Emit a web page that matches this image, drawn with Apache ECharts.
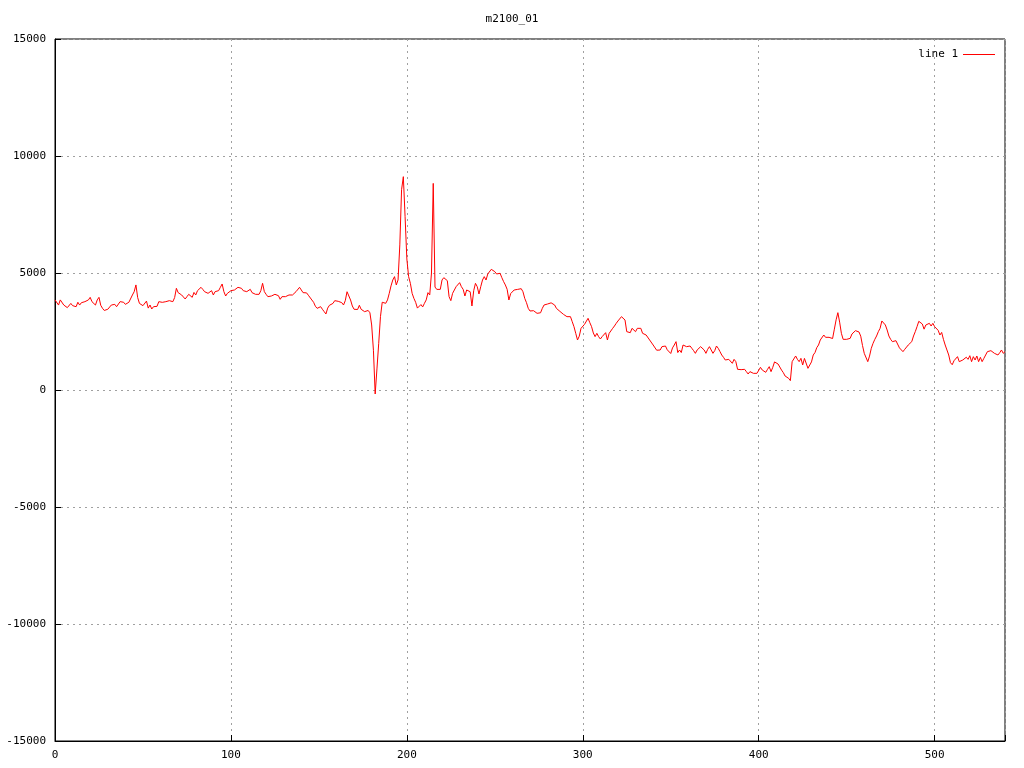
<!DOCTYPE html>
<html>
<head>
<meta charset="utf-8">
<script src="https://cdn.jsdelivr.net/npm/echarts@6/dist/echarts.min.js"></script>
<style>
html,body{margin:0;padding:0;background:#fff;}
#chart{width:1024px;height:768px;}
</style>
</head>
<body>
<div id="chart"></div>
<script>
const chartTitle = "m2100_01";
const seriesName = "line 1";
const xTicks = [0, 100, 200, 300, 400, 500];
const yTicks = [-15000, -10000, -5000, 0, 5000, 10000, 15000];
// values at x = 0, 1, 2, ...
const values = [
3850,3890,3630,3850,3775,3630,3560,3520,3520,3700,
3605,3660,3560,3750,3630,3730,3700,3775,3750,3850,
3960,3775,3740,3630,3850,3960,3620,3490,3400,3420,
3450,3450,3630,3590,3660,3560,3605,3775,3730,3750,
3660,3700,3750,3775,4060,4200,4490,3950,3700,3661,
3605,3561,3800,3500,3633,3462,3561,3633,3575,3775,
3704,3746,3704,3775,3704,3818,3733,3775,3950,4345,
4160,4131,4060,3989,3889,3989,4089,4060,3960,4170,
4060,4245,4203,4388,4302,4203,4274,4131,4203,4245,
4060,4203,4203,4245,4388,4530,4203,4017,4131,4203,
4245,4302,4274,4345,4388,4388,4345,4245,4203,4203,
4250,4302,4160,4089,4089,4131,4089,4245,4560,4203,
4089,3989,4032,4017,4060,4089,4089,4032,3875,3989,
3920,3989,3960,4060,4089,4060,4131,4203,4245,4388,
4275,4160,4200,4150,4050,4060,3847,3747,3580,3490,
3561,3561,3450,3350,3248,3500,3620,3661,3700,3818,
3760,3790,3775,3733,3633,3818,4200,4131,3847,3590,
3450,3400,3440,3620,3450,3376,3348,3277,3400,3300,
2778,1700,-171,900,1994,3134,3750,3760,3704,3850,
4131,4450,4700,4845,4488,4702,6200,8559,9117,7407,
5600,4845,4559,4131,3918,3747,3500,3448,3650,3550,
3704,3850,4160,4060,5000,8830,4400,4300,4245,4300,
4702,4800,4845,4673,3989,3818,4131,4089,4416,4488,
4588,4416,4302,4017,4274,4300,4200,3590,4245,4559,
4416,4103,4416,4700,4845,4700,4958,5015,5157,5100,
5058,4958,5015,4987,4800,4631,4488,4303,3846,4120,
4203,4274,4317,4300,4345,4330,4200,3917,3732,3490,
3376,3376,3390,3319,3277,3206,3300,3490,3633,3590,
3675,3650,3725,3747,3633,3490,3419,3360,3277,3234,
3305,3134,3063,3134,2920,2706,2421,2137,2300,2635,
2707,2807,2780,3063,2878,2707,2436,2280,2422,2280,
2180,2280,2351,2450,2137,2422,2422,2635,2735,2849,
2950,2920,3134,3205,2992,2493,2536,2450,2635,2565,
2493,2635,2565,2635,2422,2379,2351,2280,2137,2066,
1923,1852,1700,1709,1709,1852,1923,1880,1720,1650,
1560,1800,1923,2066,1600,1710,1600,1923,1995,1852,
1781,1880,1781,1681,1567,1710,1681,1852,1880,1710,
1567,1738,1852,1710,1567,1681,1880,1781,1638,1495,
1396,1282,1211,1310,1240,1140,1310,1211,883,855,
870,855,883,784,684,784,800,712,784,712,
750,969,855,926,755,883,997,784,969,1200,
1140,1111,1069,850,741,598,541,499,400,1211,
1254,1453,1311,1211,1353,1069,1350,1425,926,883,
1200,1496,1600,1809,1923,2137,2165,2350,2251,2208,
2251,2308,2200,2600,3000,3305,2900,2422,2165,2137,
2165,2137,2208,2393,2422,2536,2493,2480,2300,1900,
1567,1650,1211,1450,1781,1995,2165,2308,2493,2636,
2950,2920,2778,2565,2308,2165,2066,2137,2108,2066,
1800,1738,1638,1738,1800,1923,1852,2066,2308,2493,
2707,2935,2878,2821,2600,2778,2707,2849,2735,2849,
2707,2730,2550,2351,2460,2165,1923,1710,1496,1168,
1080,1250,1310,1425,1211,1168,1282,1211,1400,1310,
1467,1211,1425,1282,1453,1211,1396,1211,1353,1350,
1639,1567,1681,1639,1567,1595,1496,1595,1710,1567,
1639
];

const FONT = "DejaVu Sans Mono";
const chart = echarts.init(document.getElementById('chart'), null, {renderer: 'canvas'});
const xMax = 540;
const yMin = yTicks[0], yMax = yTicks[yTicks.length - 1];
const dash = {color: '#a0a0a0', type: [2, 4], width: 1};

chart.setOption({
  animation: false,
  backgroundColor: '#ffffff',
  title: {
    text: chartTitle, left: 'center', top: 9,
    textStyle: {fontFamily: FONT, fontSize: 11, fontWeight: 'normal', color: '#000'}
  },
  legend: {
    data: [{name: seriesName, icon: 'rect'}], right: 24, top: 44, align: 'right',
    itemWidth: 32, itemHeight: 1, itemGap: 8,
    textStyle: {fontFamily: FONT, fontSize: 11, color: '#000'}
  },
  grid: {left: 55, right: 19, top: 39, bottom: 27, show: true, borderColor: '#000', borderWidth: 1, backgroundColor: 'transparent'},
  xAxis: {
    type: 'value', min: 0, max: xMax, interval: 100,
    axisLine: {show: true, onZero: false, lineStyle: {color: '#000'}},
    axisTick: {show: true, inside: true, length: 6, lineStyle: {color: '#000'}},
    axisLabel: {
      fontFamily: FONT, fontSize: 11, color: '#000', margin: 9,
      formatter: v => xTicks.includes(v) ? String(v) : ''
    },
    splitLine: {show: true, lineStyle: dash}
  },
  yAxis: {
    type: 'value', min: yMin, max: yMax, interval: 5000,
    axisLine: {show: true, onZero: false, lineStyle: {color: '#000'}},
    axisTick: {show: true, inside: true, length: 6, lineStyle: {color: '#000'}},
    axisLabel: {
      fontFamily: FONT, fontSize: 11, color: '#000', margin: 9,
      formatter: v => yTicks.includes(v) ? String(v) : ''
    },
    splitLine: {show: true, lineStyle: dash}
  },
  series: [{
    name: seriesName, type: 'line', symbol: 'none', showSymbol: false,
    data: values.map((v, i) => [i, v]),
    lineStyle: {color: '#ff0000', width: 1},
    itemStyle: {color: '#ff0000'},
    z: 5
  }]
});
</script>
</body>
</html>
